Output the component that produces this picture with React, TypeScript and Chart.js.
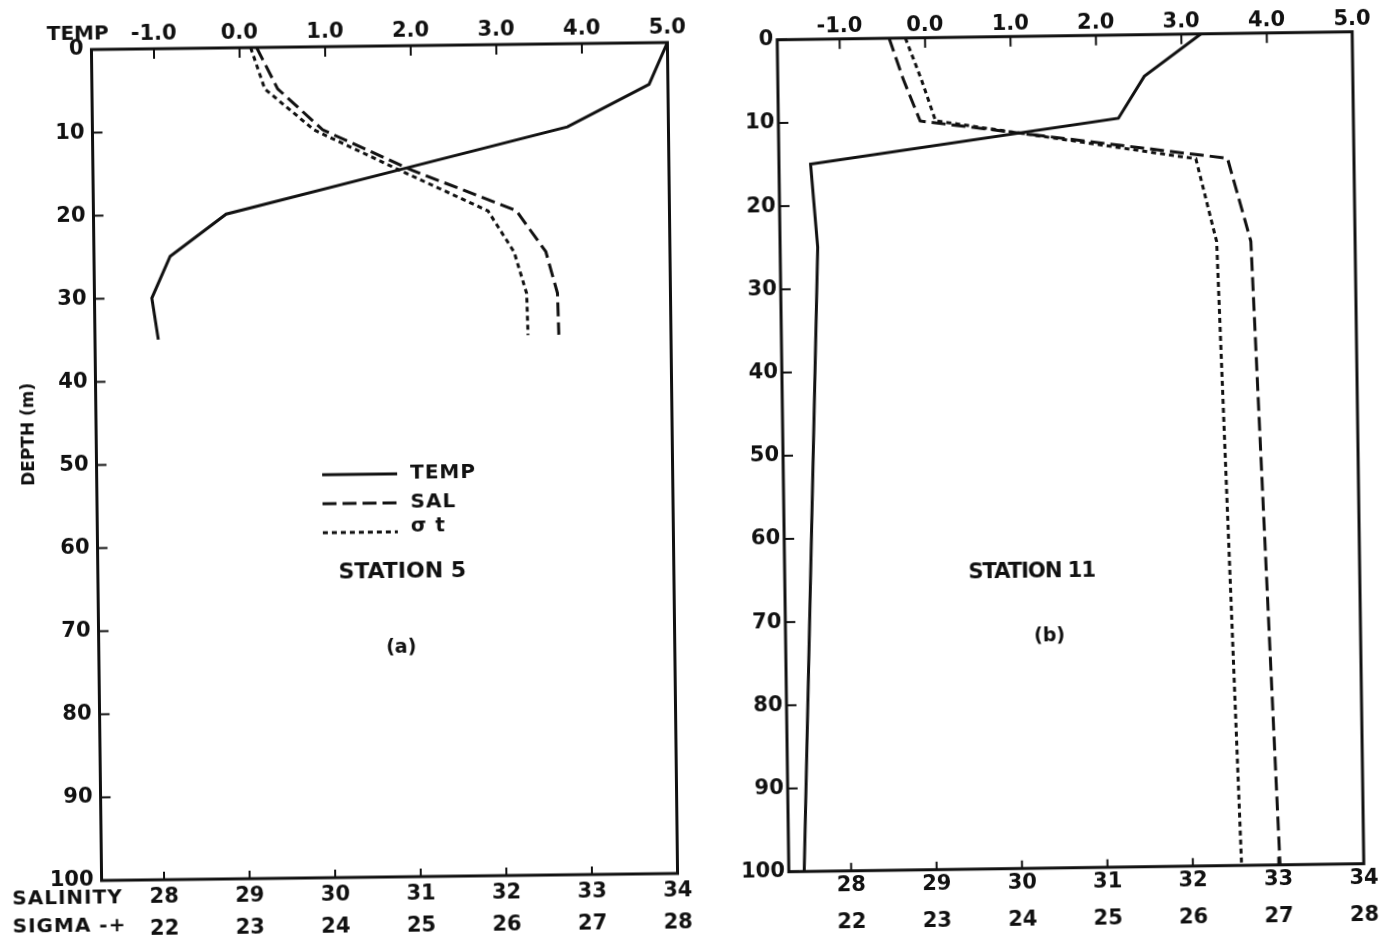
import React, { useEffect, useRef } from "react";
import { Chart, registerables } from "chart.js";

Chart.register(...registerables);

// ---------- axis ticks ----------
const TEMP_TICKS = [-1, 0, 1, 2, 3, 4, 5];
const SAL_TICKS = [28, 29, 30, 31, 32, 33, 34];
const SIGMA_TICKS = [22, 23, 24, 25, 26, 27, 28];
const DEPTH_TICKS = [0, 10, 20, 30, 40, 50, 60, 70, 80, 90, 100];

const TEMP_RANGE = [-1.73, 5.0];
const SAL_RANGE = [27.27, 34];
const SIGMA_RANGE = [21.27, 28];
const DEPTH_RANGE = [0, 100];

// ---------- Station 5 ----------
const ST5_DEPTH = [0, 5, 10, 15, 20, 25, 30, 35];
const ST5_TEMP = [5.0, 4.78, 3.82, 1.82, -0.18, -0.84, -1.06, -0.99];
const ST5_SAL = [29.2, 29.44, 29.96, 31.0, 32.21, 32.55, 32.68, 32.69];
const ST5_SIGMA = [23.13, 23.29, 23.86, 24.86, 25.88, 26.18, 26.32, 26.33];

// ---------- Station 11 ----------
const ST11_DEPTH = [0, 5, 10, 15, 25, 100];
const ST11_TEMP = [3.23, 2.56, 2.25, -1.36, -1.29, -1.55];
const ST11_SAL = [28.58, 28.74, 28.93, 32.52, 32.78, 33.02];
const ST11_SIGMA = [22.77, 22.95, 23.11, 26.15, 26.38, 26.57];

const SERIES_LABELS = ["TEMP", "SAL", "\u03c3 t"];

const INK = "#111";
const FONT = '"DejaVu Sans", "Liberation Sans", sans-serif';
const TICK_SIZE = 21;

type TextItem = {
  text: string;
  x: number;
  y: number;
  size: number;
  align?: CanvasTextAlign;
  rotate?: number;
  spacing?: number;
};

const zip = (ys: number[], xs: number[]) => ys.map((d, i) => ({ x: xs[i], y: d }));

const decorPlugin = {
  id: "decor",
  afterDraw(chart: any, _args: any, opts: any) {
    const { ctx, chartArea: a, scales } = chart;
    ctx.save();
    ctx.strokeStyle = INK;
    ctx.fillStyle = INK;
    // frame
    ctx.lineWidth = 3;
    ctx.setLineDash([]);
    ctx.strokeRect(a.left, a.top, a.right - a.left, a.bottom - a.top);
    const seg = (x1: number, y1: number, x2: number, y2: number) => {
      ctx.beginPath();
      ctx.moveTo(x1, y1);
      ctx.lineTo(x2, y2);
      ctx.stroke();
    };
    // inward tick marks
    ctx.lineWidth = 2;
    for (const v of DEPTH_TICKS) {
      const y = scales.y.getPixelForValue(v);
      seg(a.left, y, a.left + 10, y);
    }
    for (const v of TEMP_TICKS) {
      const x = scales.xTemp.getPixelForValue(v);
      seg(x, a.top, x, a.top + 10);
    }
    for (const v of SAL_TICKS) {
      const x = scales.xSal.getPixelForValue(v);
      seg(x, a.bottom, x, a.bottom - 8);
    }
    // extra texts
    ctx.textBaseline = "middle";
    for (const t of (opts.texts || []) as TextItem[]) {
      ctx.save();
      ctx.font = `bold ${t.size}px ${FONT}`;
      (ctx as any).letterSpacing = `${t.spacing || 0}px`;
      ctx.textAlign = t.align || "left";
      ctx.translate(t.x, t.y);
      if (t.rotate) ctx.rotate(t.rotate);
      ctx.fillText(t.text, 0, 0);
      ctx.restore();
    }
    // legend
    if (opts.legend) {
      const L = opts.legend;
      chart.data.datasets.forEach((ds: any, i: number) => {
        const y = L.y + i * L.gap;
        ctx.lineWidth = 3;
        ctx.setLineDash(ds.borderDash || []);
        seg(L.x1, y, L.x2, y);
        ctx.setLineDash([]);
        ctx.font = `bold ${L.size}px ${FONT}`;
        (ctx as any).letterSpacing = "1px";
        ctx.textAlign = "left";
        ctx.fillText(ds.label, L.tx, y - (i === 2 ? 5 : 0));
      });
    }
    ctx.restore();
  },
};

type PanelCfg = {
  left: number;
  width: number;
  area: { l: number; t: number; r: number; b: number };
  rot: number;
  depth: number[];
  temp: number[];
  sal: number[];
  sigma: number[];
  depthPad: number;
  topPad: number;
  salPad: number;
  sigmaPad: number;
  sigmaH: number;
  texts: TextItem[];
  legend?: any;
};

const H = 944;
const Y_W = 70;
const TOP_H = 32;
const SAL_H = 32;

const PANELS: PanelCfg[] = [
  {
    left: 0,
    width: 720,
    area: { l: 96.5, t: 46, r: 672.5, b: 877 },
    rot: -0.7,
    depth: ST5_DEPTH,
    temp: ST5_TEMP,
    sal: ST5_SAL,
    sigma: ST5_SIGMA,
    depthPad: 8,
    topPad: 1.5,
    salPad: 5,
    sigmaPad: 5,
    sigmaH: 31,
    texts: [
      { text: "TEMP", x: 52, y: 31, size: 20 },
      { text: "SALINITY", x: 7, y: 895, size: 20, spacing: 1 },
      { text: "SIGMA -+", x: 7, y: 923, size: 20, spacing: 1 },
      { text: "DEPTH (m)", x: 30, y: 430, size: 17, align: "center", rotate: -Math.PI / 2 },
      { text: "STATION 5", x: 401, y: 572, size: 22, align: "center" },
      { text: "(a)", x: 399, y: 648, size: 19, align: "center" },
    ],
    legend: { x1: 322, x2: 397, tx: 410, y: 474, gap: 29, size: 20 },
  },
  {
    left: 700,
    width: 685,
    area: { l: 83, t: 35.75, r: 658, b: 867.75 },
    rot: -0.8,
    depth: ST11_DEPTH,
    temp: ST11_TEMP,
    sal: ST11_SAL,
    sigma: ST11_SIGMA,
    depthPad: 4,
    topPad: 0,
    salPad: 2,
    sigmaPad: 7,
    sigmaH: 40,
    texts: [
      { text: "STATION 11", x: 330, y: 572, size: 21, align: "center", spacing: -1 },
      { text: "(b)", x: 347, y: 636, size: 19, align: "center" },
    ],
  },
];

function Panel({ cfg }: { cfg: PanelCfg }) {
  const ref = useRef<HTMLCanvasElement | null>(null);
  useEffect(() => {
    if (!ref.current) return;
    const tickFont = { family: FONT, size: TICK_SIZE, weight: "bold" as const };
    const { l, t, r, b } = cfg.area;
    const padding = {
      left: l - Y_W,
      top: t - TOP_H,
      right: cfg.width - r,
      bottom: H - b - SAL_H - cfg.sigmaH,
    };
    const fixedTicks = (vals: number[]) => (s: any) => {
      s.ticks = vals.map((v) => ({ value: v }));
    };
    const common = {
      grid: { display: false, drawTicks: false, tickLength: 0 },
      border: { display: false },
    };
    const mkDs = (label: string, xs: number[], axis: string, dash: number[]) => ({
      label,
      data: zip(cfg.depth, xs),
      xAxisID: axis,
      yAxisID: "y",
      borderColor: INK,
      borderWidth: 3,
      pointRadius: 0,
      borderDash: dash,
      fill: false,
    });
    const chart = new Chart(ref.current, {
      type: "line",
      data: {
        datasets: [
          mkDs(SERIES_LABELS[0], cfg.temp, "xTemp", []),
          mkDs(SERIES_LABELS[1], cfg.sal, "xSal", [14, 6]),
          mkDs(SERIES_LABELS[2], cfg.sigma, "xSigma", [5, 4]),
        ] as any,
      },
      options: {
        responsive: false,
        animation: false,
        devicePixelRatio: 1,
        layout: { padding },
        plugins: {
          legend: { display: false },
          tooltip: { enabled: false },
          decor: { texts: cfg.texts, legend: cfg.legend },
        } as any,
        scales: {
          y: {
            type: "linear",
            position: "left",
            reverse: true,
            min: DEPTH_RANGE[0],
            max: DEPTH_RANGE[1],
            afterBuildTicks: fixedTicks(DEPTH_TICKS),
            afterFit: (s: any) => {
              s.width = Y_W;
            },
            ticks: {
              font: tickFont,
              color: INK,
              padding: cfg.depthPad,
              autoSkip: false,
              callback: (v: any) => String(v),
            },
            ...common,
          },
          xTemp: {
            type: "linear",
            position: "top",
            min: TEMP_RANGE[0],
            max: TEMP_RANGE[1],
            afterBuildTicks: fixedTicks(TEMP_TICKS),
            afterFit: (s: any) => {
              s.height = TOP_H;
            },
            ticks: {
              font: tickFont,
              color: INK,
              padding: cfg.topPad,
              autoSkip: false,
              maxRotation: 0,
              minRotation: 0,
              callback: (v: any) => Number(v).toFixed(1),
            },
            ...common,
          },
          xSal: {
            type: "linear",
            position: "bottom",
            weight: 0,
            min: SAL_RANGE[0],
            max: SAL_RANGE[1],
            afterBuildTicks: fixedTicks(SAL_TICKS),
            afterFit: (s: any) => {
              s.height = SAL_H;
            },
            ticks: {
              font: tickFont,
              color: INK,
              padding: cfg.salPad,
              autoSkip: false,
              maxRotation: 0,
              minRotation: 0,
              callback: (v: any) => String(v),
            },
            ...common,
          },
          xSigma: {
            type: "linear",
            position: "bottom",
            weight: 1,
            min: SIGMA_RANGE[0],
            max: SIGMA_RANGE[1],
            afterBuildTicks: fixedTicks(SIGMA_TICKS),
            afterFit: (s: any) => {
              s.height = cfg.sigmaH;
            },
            ticks: {
              font: tickFont,
              color: INK,
              padding: cfg.sigmaPad,
              autoSkip: false,
              maxRotation: 0,
              minRotation: 0,
              callback: (v: any) => String(v),
            },
            ...common,
          },
        } as any,
      },
      plugins: [decorPlugin as any],
    });
    return () => chart.destroy();
  }, [cfg]);

  const cx = (cfg.area.l + cfg.area.r) / 2;
  const cy = (cfg.area.t + cfg.area.b) / 2;
  return (
    <canvas
      ref={ref}
      width={cfg.width}
      height={H}
      style={{
        position: "absolute",
        left: cfg.left,
        top: 0,
        width: cfg.width,
        height: H,
        transform: `rotate(${cfg.rot}deg)`,
        transformOrigin: `${cx}px ${cy}px`,
      }}
    />
  );
}

export default function App() {
  return (
    <div
      style={{
        position: "absolute",
        left: 0,
        top: 0,
        width: 1385,
        height: H,
        overflow: "hidden",
        background: "#fff",
      }}
    >
      {PANELS.map((p, i) => (
        <Panel key={i} cfg={p} />
      ))}
    </div>
  );
}
